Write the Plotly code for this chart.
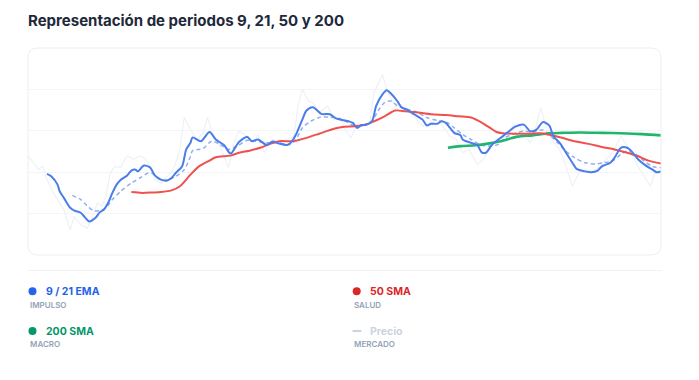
import plotly.graph_objects as go

TITLE = "Representación de periodos 9, 21, 50 y 200"

# Precio (mercado)
price_days = [0, 2, 5, 7, 9, 12, 14, 17, 20, 22, 25, 28, 30, 33, 35, 37, 39, 41, 44, 45, 47, 50, 53, 55, 58,
              60, 63, 66, 69, 72, 74, 77, 80, 83, 85, 88, 91, 95, 98, 100, 104, 107, 109, 112, 116, 119, 123,
              126, 128, 130, 133, 135, 138, 142, 145, 148, 150, 153, 156, 159, 162, 164, 168, 170, 173, 176,
              179, 183, 187, 190, 193, 196, 200, 203, 206, 209, 213, 216, 219, 222, 227, 230, 233, 235, 238,
              240, 243, 245, 248, 252, 255, 258, 261, 264, 268, 271, 274, 277, 281, 283, 286, 289, 292, 295,
              297, 300]
price_vals = [113.9, 112.7, 110.6, 111.5, 108.2, 105.0, 103.4, 101.0, 96.1, 99.3, 97.3, 96.5, 98.5, 102.6,
              101.8, 104.2, 109.8, 111.4, 111.1, 112.3, 113.9, 113.1, 113.9, 113.5, 111.4, 108.2, 107.4, 109.0,
              110.6, 115.5, 123.2, 120.3, 117.9, 119.5, 123.2, 118.7, 116.3, 111.1, 117.9, 119.9, 118.7, 117.1,
              119.1, 114.7, 117.9, 117.1, 117.9, 118.7, 126.0, 130.0, 127.2, 126.8, 124.4, 126.0, 122.7, 123.2,
              120.5, 118.3, 121.5, 121.1, 122.3, 129.2, 133.6, 130.0, 126.8, 124.7, 125.6, 123.5, 121.1, 121.5,
              122.7, 121.5, 118.7, 117.9, 114.7, 115.5, 111.9, 113.1, 116.3, 117.9, 118.7, 121.5, 121.1, 119.5,
              117.1, 119.5, 125.6, 121.9, 117.9, 115.5, 111.4, 106.6, 109.8, 110.6, 110.2, 111.4, 113.1, 114.7,
              118.7, 117.1, 114.7, 111.4, 109.0, 106.6, 109.8, 109.8]

# EMA 9
ema9_days = [9, 11, 14, 15, 17, 20, 22, 25, 27, 29, 32, 34, 36, 38, 40, 42, 44, 47, 49, 51, 52, 55, 58, 60,
             63, 66, 68, 70, 73, 75, 77, 78, 82, 86, 89, 93, 96, 100, 104, 106, 109, 113, 116, 119, 123, 125,
             127, 130, 132, 135, 139, 143, 146, 149, 152, 154, 156, 158, 160, 163, 165, 168, 170, 172, 175,
             177, 180, 183, 187, 189, 191, 194, 196, 198, 200, 202, 205, 206, 210, 213, 215, 217, 220, 223,
             227, 231, 235, 238, 241, 244, 247, 249, 252, 255, 258, 260, 264, 267, 270, 272, 276, 278, 281,
             284, 286, 289, 292, 296, 298, 300]
ema9_vals = [109.6, 109.0, 107.0, 105.4, 103.8, 101.4, 100.7, 100.2, 99.1, 98.1, 99.0, 100.3, 101.0, 102.6,
             105.0, 107.0, 108.2, 109.2, 110.4, 110.6, 110.2, 111.6, 111.1, 109.3, 108.2, 108.0, 108.6, 109.8,
             111.4, 115.5, 117.1, 118.4, 117.5, 119.7, 117.9, 116.5, 114.5, 117.3, 118.5, 117.5, 117.9, 116.6,
             117.4, 116.9, 116.6, 117.4, 119.1, 122.7, 124.9, 125.7, 124.1, 124.0, 123.0, 122.6, 122.3, 121.9,
             120.7, 121.4, 121.4, 122.3, 126.0, 128.8, 129.8, 129.0, 127.2, 125.7, 125.0, 124.0, 122.7, 121.3,
             121.7, 121.7, 122.3, 121.9, 120.7, 119.5, 118.9, 117.9, 117.1, 116.5, 114.8, 114.7, 116.7, 117.9,
             119.5, 121.0, 121.5, 119.9, 120.3, 122.1, 121.3, 118.7, 117.1, 114.7, 112.3, 110.8, 110.2, 110.0,
             110.4, 111.4, 112.3, 113.5, 115.9, 115.9, 115.1, 113.2, 111.9, 110.6, 110.0, 110.2]

# EMA 21
ema21_days = [21, 25, 28, 31, 34, 37, 40, 44, 49, 53, 57, 59, 63, 66, 70, 74, 77, 78, 83, 87, 91, 95, 99,
              104, 108, 113, 119, 124, 127, 130, 134, 138, 143, 149, 155, 160, 163, 166, 169, 172, 175, 179,
              184, 189, 194, 199, 202, 206, 210, 214, 218, 223, 226, 231, 235, 239, 244, 247, 251, 254, 259,
              264, 269, 273, 277, 281, 284, 288, 292, 296, 300]
ema21_vals = [104.4, 103.4, 101.9, 100.7, 100.7, 101.4, 103.4, 105.4, 107.4, 108.6, 109.8, 109.7, 108.2,
              108.1, 109.0, 110.6, 113.8, 115.2, 115.7, 117.5, 116.7, 115.5, 116.3, 117.7, 117.5, 117.1, 117.1,
              116.7, 117.9, 120.7, 122.3, 123.2, 123.3, 122.7, 121.1, 121.5, 122.3, 124.9, 126.8, 127.2, 126.1,
              125.3, 124.6, 123.2, 122.5, 121.9, 120.7, 119.1, 117.9, 116.7, 116.3, 116.7, 118.3, 119.4, 119.9,
              119.7, 120.2, 119.1, 117.1, 115.5, 113.5, 112.3, 112.0, 112.3, 112.7, 114.3, 115.1, 114.3, 112.7,
              111.4, 111.1]

# SMA 50
sma50_days = [49, 54, 59, 63, 68, 72, 77, 81, 86, 89, 96, 100, 105, 110, 115, 119, 126, 132, 138, 145, 150,
              155, 160, 164, 169, 174, 179, 185, 191, 198, 204, 210, 215, 219, 222, 225, 231, 237, 243, 248,
              253, 259, 265, 272, 278, 284, 289, 294, 300]
sma50_vals = [105.2, 105.0, 105.1, 105.2, 105.6, 106.6, 109.4, 111.4, 112.8, 113.6, 114.0, 114.7, 115.2,
              115.9, 116.9, 117.5, 117.5, 118.3, 119.3, 120.5, 121.0, 121.1, 121.5, 122.3, 123.5, 124.9, 124.7,
              124.4, 124.0, 123.8, 123.5, 123.2, 122.0, 120.7, 119.7, 119.4, 119.3, 119.3, 119.4, 118.9, 118.3,
              117.5, 116.9, 116.1, 115.5, 114.7, 113.9, 112.8, 112.1]

# SMA 200
sma200_days = [199, 205, 212, 218, 224, 227, 232, 239, 247, 253, 262, 272, 281, 291, 300]
sma200_vals = [115.9, 116.3, 116.5, 116.9, 117.5, 117.9, 118.6, 118.9, 119.4, 119.5, 119.6, 119.5, 119.4,
               119.2, 118.9]

grid_vals = [100, 110, 120, 130]

# The page body has an 8px default margin: work in page pixels, convert to figure pixels.
OFF = 8
W, H = 699 - OFF, 380 - OFF
PLOT_X0, PLOT_X1, PLOT_Y0, PLOT_Y1 = 28, 661, 48, 255   # page pixels
L = PLOT_X0 - OFF
T = PLOT_Y0 - OFF
R = W - (PLOT_X1 - OFF)
B = H - (PLOT_Y1 - OFF)
PW, PH = W - L - R, H - T - B


def fx(px):
    return (px - PLOT_X0) / PW


def fy(py):
    return (PLOT_Y1 - py) / PH


FONT = "Inter, 'Noto Sans', sans-serif"

fig = go.Figure()

fig.add_trace(go.Scatter(x=price_days, y=price_vals, mode="lines", name="Precio",
                         line=dict(color="#edf1f7", width=1.2), hoverinfo="skip"))
fig.add_trace(go.Scatter(x=ema21_days, y=ema21_vals, mode="lines", name="21 EMA",
                         line=dict(color="#8eb0f2", width=1.5, dash="4px,3px", shape="spline", smoothing=0.8)))
fig.add_trace(go.Scatter(x=sma200_days, y=sma200_vals, mode="lines", name="200 SMA",
                         line=dict(color="#1fb56c", width=2.6, shape="spline", smoothing=0.8)))
fig.add_trace(go.Scatter(x=sma50_days, y=sma50_vals, mode="lines", name="50 SMA",
                         line=dict(color="#f0504e", width=2, shape="spline", smoothing=0.8)))
fig.add_trace(go.Scatter(x=ema9_days, y=ema9_vals, mode="lines", name="9 EMA",
                         line=dict(color="#4a7de8", width=2, shape="spline", smoothing=0.8)))

rx, ry = 10 / PW, 10 / PH
card = (f"M {rx},0 L {1 - rx},0 Q 1,0 1,{ry} L 1,{1 - ry} Q 1,1 {1 - rx},1 "
        f"L {rx},1 Q 0,1 0,{1 - ry} L 0,{ry} Q 0,0 {rx},0 Z")

shapes = [
    dict(type="path", xref="paper", yref="paper", path=card, line=dict(color="#eceef2", width=1),
         fillcolor="rgba(0,0,0,0)", layer="above"),
    dict(type="line", xref="paper", yref="paper", x0=fx(28), x1=fx(662), y0=fy(270.5), y1=fy(270.5),
         line=dict(color="#f1f3f6", width=1)),
    dict(type="circle", xref="paper", yref="paper", x0=fx(28.5), x1=fx(36.5), y0=fy(295.3), y1=fy(287.3),
         fillcolor="#2563eb", line=dict(width=0)),
    dict(type="circle", xref="paper", yref="paper", x0=fx(352.7), x1=fx(360.7), y0=fy(295.3), y1=fy(287.3),
         fillcolor="#dc2626", line=dict(width=0)),
    dict(type="circle", xref="paper", yref="paper", x0=fx(28.5), x1=fx(36.5), y0=fy(335), y1=fy(327),
         fillcolor="#059669", line=dict(width=0)),
    dict(type="line", xref="paper", yref="paper", x0=fx(352.5), x1=fx(361.5), y0=fy(331), y1=fy(331),
         line=dict(color="#cbd5e1", width=2)),
]

legend_items = [
    ("9 / 21 EMA", "#2563eb", 44, 291.3, "IMPULSO", 27.5, 304.7),
    ("50 SMA", "#dc2626", 367.5, 291.3, "SALUD", 351.5, 304.7),
    ("200 SMA", "#059669", 44, 331, "MACRO", 27.5, 343.5),
    ("Precio", "#cbd5e1", 367.5, 331, "MERCADO", 351.5, 343.5),
]

annotations = []
for label, color, lx, ly, sub, sx, sy in legend_items:
    annotations.append(dict(text=label, x=fx(lx), y=fy(ly), xref="paper", yref="paper",
                            xanchor="left", yanchor="middle", showarrow=False,
                            font=dict(family=FONT, size=10.5, color=color, weight=700)))
    annotations.append(dict(text=sub, x=fx(sx), y=fy(sy), xref="paper", yref="paper",
                            xanchor="left", yanchor="middle", showarrow=False,
                            font=dict(family=FONT, size=8, color="#94a3b8", weight=600)))

fig.update_layout(
    width=W, height=H,
    margin=dict(l=L, r=R, t=T, b=B),
    paper_bgcolor="white", plot_bgcolor="white",
    showlegend=False,
    title=dict(text=TITLE, x=(28 - OFF) / W, xanchor="left", y=1 - (21 - OFF) / H, yanchor="middle",
               font=dict(family=FONT, size=15, color="#1e293b", weight=700)),
    xaxis=dict(range=[0, 300], showgrid=False, zeroline=False, showticklabels=False, showline=False,
               fixedrange=True),
    yaxis=dict(range=[90, 140], tickvals=grid_vals, showgrid=True, gridcolor="#f4f5f8", gridwidth=1,
               zeroline=False, showticklabels=False, showline=False, fixedrange=True),
    shapes=shapes,
    annotations=annotations,
)

fig.write_html("out.html", config={"displayModeBar": False})
